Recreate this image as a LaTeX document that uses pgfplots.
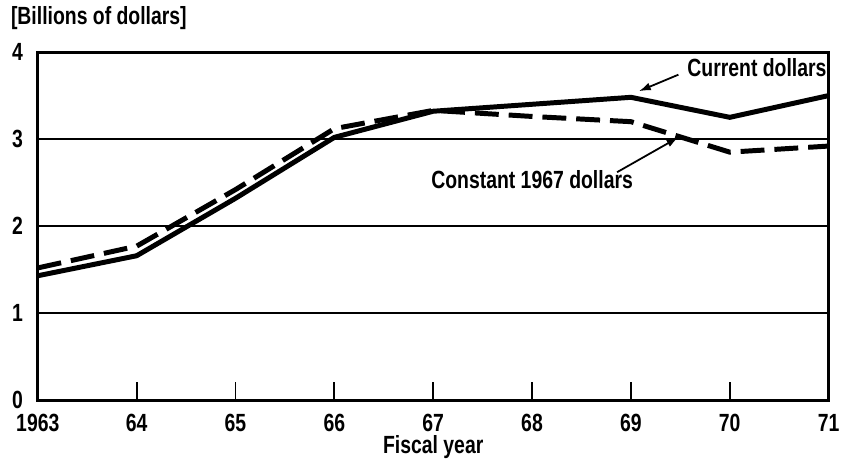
\documentclass[border=0pt]{standalone}
\usepackage{fontspec}
\setmainfont{Liberation Sans}[FakeStretch=0.78]
\usepackage{pgfplots}
\pgfplotsset{compat=1.18}
\usetikzlibrary{arrows.meta}
\begin{document}
\begin{tikzpicture}[font=\fontsize{12.5}{15}\selectfont\bfseries]
\begin{axis}[
  scale only axis, width=397.5pt, height=175pt,
  xmin=1963, xmax=1971, ymin=0, ymax=4,
  axis line style={line width=1.5pt},
  xtick={1963,...,1971},
  xticklabels={1963,64,65,66,67,68,69,70,71},
  ytick={0,1,2,3,4},
  /pgf/number format/assume math mode=true,
  tick align=inside, xtick pos=lower, ytick pos=left,
  major tick length=9pt,
  xtick style={line width=0.9pt, black},
  ytick style={draw=none},
  yticklabel style={xshift=-4pt},
  xticklabel style={yshift=-3.5pt},
  ymajorgrids, grid style={line width=0.7pt, black},
  xlabel={Fiscal year},
  xlabel style={yshift=5pt},
  clip=false,
]
\addplot[line width=2.5pt, line join=round] coordinates {
 (1963,1.43) (1964,1.66) (1965,2.32) (1966,3.02) (1967,3.32)
 (1968,3.40) (1969,3.48) (1970,3.25) (1971,3.50)};
\addplot[line width=2.5pt, dash pattern=on 12pt off 5pt] coordinates {
 (1963,1.52) (1964,1.77) (1965,2.42) (1966,3.12) (1967,3.33)
 (1968,3.26) (1969,3.20) (1970,2.85) (1971,2.92)};
\node[anchor=west] at (axis cs:1969.5,3.82) {Current dollars};
\draw[-{Latex[length=6pt,width=4pt]}, line width=0.9pt] (axis cs:1969.48,3.74) -- (axis cs:1969.08,3.55);
\node at (axis cs:1968.0,2.53) {Constant 1967 dollars};
\draw[-{Latex[length=6pt,width=4pt]}, line width=0.9pt] (axis cs:1968.86,2.62) -- (axis cs:1969.48,3.02);
\node[anchor=west] at ([xshift=-17pt,yshift=17pt]rel axis cs:0,1) {[Billions of dollars]};
\path ([xshift=-19pt,yshift=-26pt]rel axis cs:0,0) rectangle ([xshift=6.5pt,yshift=26pt]rel axis cs:1,1);
\end{axis}
\end{tikzpicture}
\end{document}
